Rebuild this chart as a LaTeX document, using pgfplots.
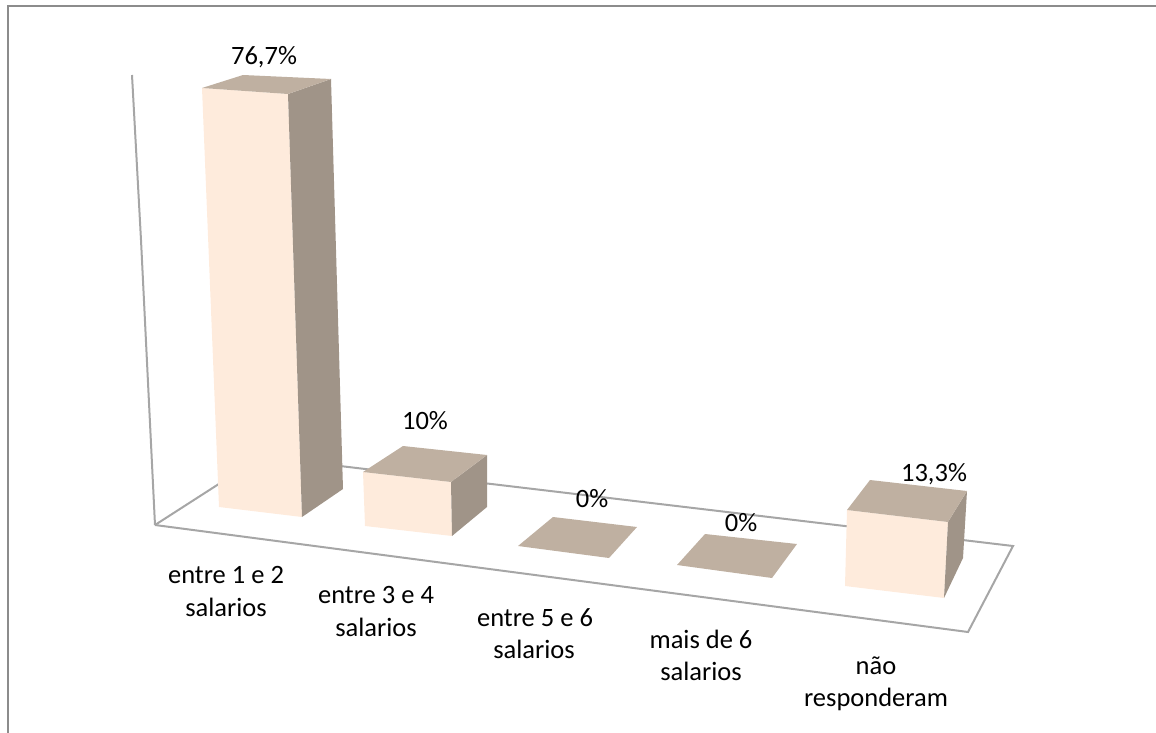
\documentclass[border=0pt]{standalone}
\usepackage{fontspec}
\setmainfont{Carlito}
\usepackage{pgfplots}
\pgfplotsset{compat=1.18}
\definecolor{frontc}{HTML}{FEEBDC}
\definecolor{sidec}{HTML}{A09488}
\definecolor{topc}{HTML}{BFB0A1}
\definecolor{gridc}{HTML}{A6A6A6}
\definecolor{framec}{HTML}{8C8C8C}
\tikzset{lbl/.style={font=\fontsize{26.5}{30}\selectfont,anchor=base,inner sep=0pt,text=black}}
\begin{document}
\begin{tikzpicture}
\path[use as bounding box] (0,0) rectangle (1156pt,733pt);
\begin{axis}[at={(0,0)},anchor=south west,scale only axis,width=1156pt,height=733pt,
  xmin=0,xmax=1156,ymin=0,ymax=733,y dir=reverse,axis lines=none,clip=false]
% outer frame
\addplot[color=framec,line width=2pt] coordinates {(8,733) (8,6.5) (1156,6.5)};
% walls and floor
\addplot[color=gridc,line width=2pt] coordinates {(132,75) (141,240) (155,525)};
\addplot[color=gridc,line width=2pt] coordinates {(155,525) (225,480)};
\addplot[color=gridc,line width=2pt] coordinates {(340,466) (1013,546) (968,632) (155,525)};
% bar 1: 76,7%
\addplot[draw=none,fill=frontc] coordinates {(202,88) (288,94) (302,517) (219,507)} --cycle;
\addplot[draw=none,fill=sidec] coordinates {(288,94) (331,79) (343,489) (302,517)} --cycle;
\addplot[draw=none,fill=topc] coordinates {(202,88) (243,75) (331,79) (288,94)} --cycle;
% bar 2: 10%
\addplot[draw=none,fill=frontc] coordinates {(363,472) (451,482) (452,536) (365,526)} --cycle;
\addplot[draw=none,fill=sidec] coordinates {(451,482) (487,455) (487,507) (452,536)} --cycle;
\addplot[draw=none,fill=topc] coordinates {(363,472) (403,446) (487,455) (451,482)} --cycle;
% bars 3, 4: 0%
\addplot[draw=none,fill=topc] coordinates {(518,546) (553,517) (637,527) (609,558)} --cycle;
\addplot[draw=none,fill=topc] coordinates {(677,565) (705,534) (797,544) (772,578)} --cycle;
% bar 5: 13,3%
\addplot[draw=none,fill=frontc] coordinates {(847,510) (948,522) (944,598) (845,586)} --cycle;
\addplot[draw=none,fill=sidec] coordinates {(948,522) (967,491) (963,558) (944,598)} --cycle;
\addplot[draw=none,fill=topc] coordinates {(847,510) (870,480) (967,491) (948,522)} --cycle;
% data labels
\node[lbl] at (axis cs:264,65) {76,7\%};
\node[lbl] at (axis cs:425,429) {10\%};
\node[lbl] at (axis cs:592,507) {0\%};
\node[lbl] at (axis cs:741,531) {0\%};
\node[lbl] at (axis cs:934,481) {13,3\%};
% category labels
\node[lbl] at (axis cs:226,583) {entre 1 e 2};
\node[lbl] at (axis cs:226,616) {salarios};
\node[lbl] at (axis cs:376,603) {entre 3 e 4};
\node[lbl] at (axis cs:376,636) {salarios};
\node[lbl] at (axis cs:535,626) {entre 5 e 6};
\node[lbl] at (axis cs:534,658) {salarios};
\node[lbl] at (axis cs:701,648) {mais de 6};
\node[lbl] at (axis cs:701,680) {salarios};
\node[lbl] at (axis cs:876,674) {não};
\node[lbl] at (axis cs:876,706) {responderam};
\end{axis}
\end{tikzpicture}
\end{document}
